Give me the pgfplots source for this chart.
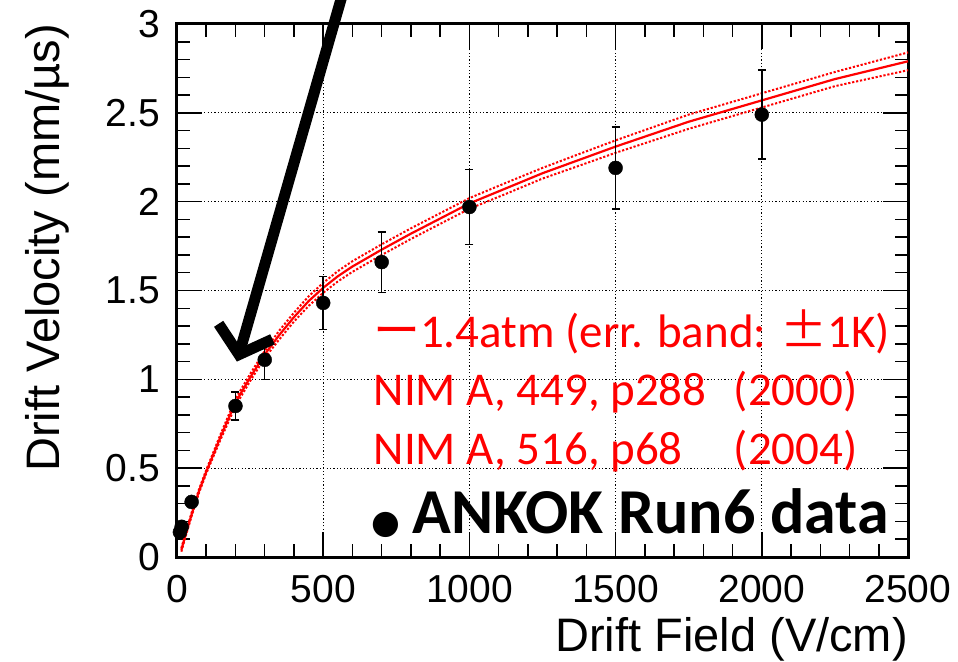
\documentclass[border=0pt]{standalone}
\usepackage{fontspec}
\setmainfont{Liberation Sans}
\newfontfamily\calibri{Carlito}
\newfontfamily\cjk{Noto Sans CJK JP}
\newfontfamily\dejavu{DejaVu Sans}
\usepackage{pgfplots}
\pgfplotsset{compat=1.18}
\usetikzlibrary{arrows.meta}

\pgfplotstableread{
E v e
10 0.14 0.02
16 0.17 0.02
50 0.31 0.02
200 0.85 0.08
300 1.11 0.11
500 1.43 0.15
700 1.66 0.17
1000 1.97 0.21
1500 2.19 0.23
2000 2.49 0.25
}\datatable

\pgfplotstableread{
E c lo hi
15 0.04 0.03 0.05
25 0.10 0.09 0.11
50 0.24 0.23 0.25
75 0.37 0.36 0.38
100 0.48 0.47 0.49
150 0.68 0.665 0.695
200 0.87 0.85 0.89
250 1.01 0.99 1.03
300 1.14 1.12 1.16
350 1.25 1.225 1.275
400 1.35 1.325 1.375
450 1.44 1.413 1.467
500 1.515 1.487 1.543
550 1.58 1.551 1.609
600 1.635 1.605 1.665
700 1.73 1.70 1.76
800 1.82 1.79 1.85
900 1.905 1.875 1.935
1000 1.99 1.96 2.02
1125 2.075 2.044 2.106
1250 2.16 2.13 2.19
1375 2.235 2.202 2.268
1500 2.31 2.275 2.345
1750 2.45 2.41 2.49
2000 2.57 2.53 2.61
2250 2.69 2.65 2.73
2500 2.79 2.74 2.84
}\fittable

\begin{document}
\begin{tikzpicture}
\useasboundingbox (-177pt,-104pt) rectangle (781pt,557pt);
\begin{axis}[
  at={(0,0)}, anchor=south west,
  scale only axis, width=731pt, height=533pt,
  xmin=0, xmax=2500, ymin=0, ymax=3,
  xtick={0,500,...,2500}, ytick={0,0.5,...,3},
  minor x tick num=4, minor y tick num=4,
  tick align=inside,
  major tick length=25pt, minor tick length=13pt,
  every tick/.style={black, line width=1.5pt},
  axis line style={line width=3pt},
  grid=major,
  major grid style={black, line width=1pt, dash pattern=on 1.2pt off 2.2pt},
  /pgf/number format/assume math mode=true,
  /pgf/number format/1000 sep={},
  tick label style={font=\fontsize{39}{39}\selectfont},
  xticklabel style={inner sep=0pt, anchor=north, yshift=-18pt},
  yticklabel style={inner sep=0pt, anchor=east, xshift=-17pt},
  scaled ticks=false,
  xlabel={Drift Field (V/cm)},
  ylabel={Drift Velocity (mm/\textmu s)},
  label style={font=\fontsize{47}{47}\selectfont},
  xlabel style={at={([yshift=-94pt]axis description cs:1,0)}, anchor=base east, inner sep=0pt},
  ylabel style={at={([xshift=-117pt]axis description cs:0,1)}, anchor=base east, inner sep=0pt},
  clip=false,
]
\addplot[red, line width=2pt, dash pattern=on 2.2pt off 1.8pt] table[x=E, y=lo] {\fittable};
\addplot[red, line width=2pt, dash pattern=on 2.2pt off 1.8pt] table[x=E, y=hi] {\fittable};
\addplot[red, line width=2.2pt] table[x=E, y=c] {\fittable};
\addplot[black, only marks, mark=*, mark size=7pt,
  error bars/.cd, y dir=both, y explicit,
  error bar style={line width=1.5pt, black},
  error mark options={rotate=90, mark size=4pt, line width=1.5pt, black}]
  table[x=E, y=v, y error=e] {\datatable};
\draw[black, line width=11pt, -{Straight Barb[length=24pt, width=56pt]}] (axis cs:575,3.22) -- (axis cs:205,1.10);
\node[anchor=base west, inner sep=0pt, text=red, font=\calibri\fontsize{47}{47}\selectfont] at (axis cs:670,1.18) {{\cjk ー}1.4atm (err. band: {\cjk ±}1K)};
\node[anchor=base west, inner sep=0pt, text=red, font=\calibri\fontsize{47}{47}\selectfont] at (axis cs:672,0.85) {\makebox[360pt][l]{NIM A, 449, p288}(2000)};
\node[anchor=base west, inner sep=0pt, text=red, font=\calibri\fontsize{47}{47}\selectfont] at (axis cs:672,0.52) {\makebox[360pt][l]{NIM A, 516, p68}(2004)};
\node[anchor=base west, inner sep=0pt, font=\calibri\bfseries\fontsize{64}{64}\selectfont] at (axis cs:665,0.13) {{\dejavu\fontsize{33}{33}\selectfont ●}\hspace{12pt}ANKOK Run6 data};
\end{axis}
\end{tikzpicture}
\end{document}
